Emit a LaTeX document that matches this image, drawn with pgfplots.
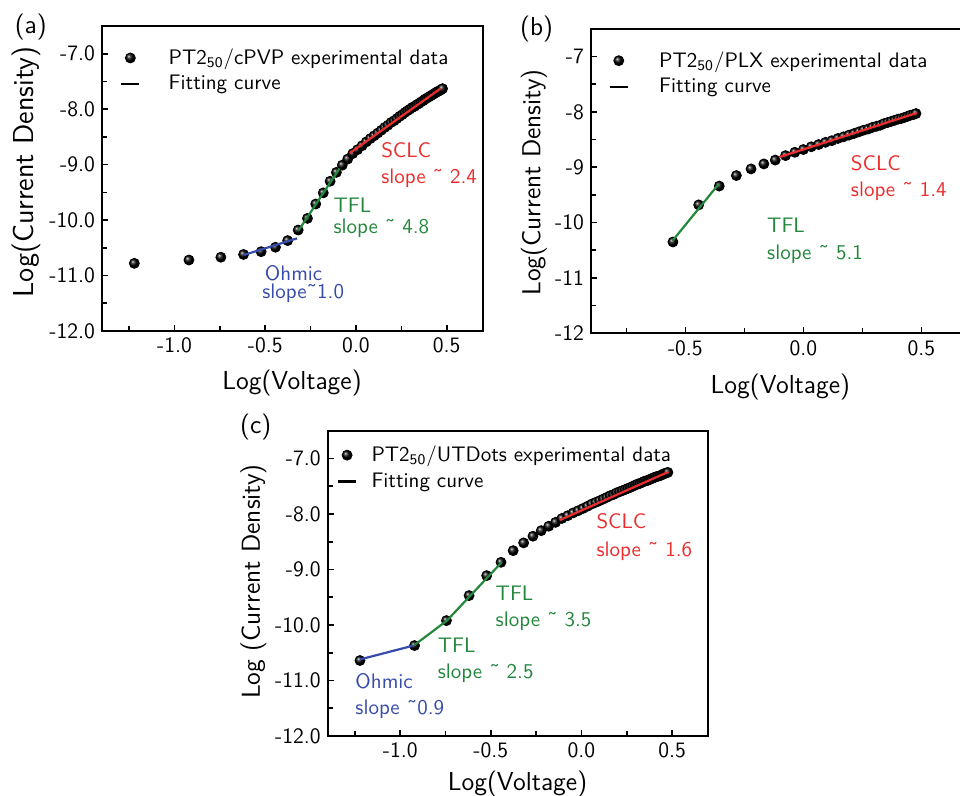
\documentclass[border=0pt]{standalone}
\usepackage{fontspec}
\usepackage{pgfplots}
\pgfplotsset{compat=1.18}

\definecolor{fitred}{RGB}{235,45,45}
\definecolor{fitgreen}{RGB}{35,135,60}
\definecolor{fitblue}{RGB}{55,75,170}

\newcommand{\tl}{{\char"02DC\relax}}

\tikzset{ann/.style={anchor=west, inner sep=0pt, font=\fontsize{10.5}{12}\selectfont\sffamily}}

\pgfplotsset{
  jstyle/.style={
    scale only axis, anchor=south west, clip=false, clip marker paths=true,
    axis line style={line width=0.9pt},
    every tick/.style={black, line width=0.8pt},
    tick align=inside, xtick pos=left, ytick pos=left,
    major tick length=3pt, minor tick length=2.5pt,
    ymin=-12, ymax=-6.5,
    ytick={-12,-11,...,-7},
    minor ytick={-11.5,-10.5,-9.5,-8.5,-7.5},
    tick label style={font=\fontsize{11}{13}\selectfont\sffamily},
    /pgf/number format/assume math mode=true,
    xticklabel style={/pgf/number format/.cd, fixed, fixed zerofill, precision=1},
    legend cell align=left,
    legend style={draw=none, fill=none, anchor=north west, inner sep=0pt,
      font=\fontsize{10.5}{12}\selectfont\sffamily, row sep=1pt,
      nodes={inner sep=1.5pt}},
  },
  dat/.style={only marks, mark=ball, mark size=2.5pt, mark options={ball color=black}},
  fit/.style={line width=1.1pt, no marks},
}

\begin{document}
\begin{tikzpicture}[font=\sffamily]

% ---------- (a) ----------
\begin{axis}[jstyle, at={(51pt,232.5pt)}, width=190.5pt, height=152.5pt,
  xmin=-1.4, xmax=0.7, xtick={-1,-0.5,0,0.5}, minor xtick={-1.25,-0.75,-0.25,0.25},
  yticklabel style={/pgf/number format/.cd, fixed, fixed zerofill, precision=1},
  legend style={at={(rel axis cs:0.046,0.937)}, /tikz/every odd column/.append style={column sep=12.5pt}}]
\addlegendimage{dat}
\addlegendentry{PT2\textsubscript{50}/cPVP experimental data}
\addlegendimage{legend image code/.code={\draw[black, line width=1.3pt] (0.14cm,0cm) -- (0.46cm,0cm);}}
\addlegendentry{Fitting curve}
\addplot[dat] table {
x y
-1.22185 -10.78
-0.92082 -10.72
-0.74473 -10.67
-0.61979 -10.62
-0.52288 -10.57
-0.44370 -10.49
-0.37675 -10.37
-0.31876 -10.18
-0.26761 -9.97
-0.22185 -9.71
-0.18046 -9.51
-0.14267 -9.30
-0.10791 -9.14
-0.07572 -9.01
-0.04576 -8.90
-0.01773 -8.80
0.00860 -8.73
0.03342 -8.66
0.05690 -8.59
0.07918 -8.53
0.10037 -8.48
0.12057 -8.43
0.13988 -8.38
0.15836 -8.33
0.17609 -8.29
0.19312 -8.24
0.20951 -8.21
0.22531 -8.17
0.24055 -8.13
0.25527 -8.10
0.26951 -8.06
0.28330 -8.03
0.29666 -8.00
0.30963 -7.97
0.32222 -7.95
0.33445 -7.92
0.34635 -7.90
0.35793 -7.87
0.36921 -7.85
0.38021 -7.82
0.39093 -7.80
0.40140 -7.78
0.41162 -7.76
0.42160 -7.74
0.43136 -7.72
0.44091 -7.70
0.45025 -7.68
0.45939 -7.67
0.46835 -7.65
0.47712 -7.63
};
\addplot[fit, fitblue] coordinates {(-0.619,-10.63) (-0.325,-10.33)};
\addplot[fit, fitgreen] coordinates {(-0.317,-10.19) (-0.091,-9.07)};
\addplot[fit, fitred] coordinates {(-0.033,-8.79) (0.465,-7.63)};
\node[ann, text=fitred] at (axis cs:0.137,-8.74) {SCLC};
\node[ann, text=fitred] at (axis cs:0.137,-9.24) {slope \tl\ 2.4};
\node[ann, text=fitgreen] at (axis cs:-0.126,-9.73) {TFL};
\node[ann, text=fitgreen] at (axis cs:-0.126,-10.14) {slope \tl\ 4.8};
\node[ann, text=fitblue] at (axis cs:-0.504,-10.96) {Ohmic};
\node[ann, text=fitblue] at (axis cs:-0.518,-11.32) {slope\tl1.0};
\end{axis}

% ---------- (b) ----------
\begin{axis}[jstyle, at={(295.5pt,231.35pt)}, width=188.8pt, height=152.2pt,
  xmin=-0.9, xmax=0.7, xtick={-0.5,0,0.5}, minor xtick={-0.75,-0.25,0.25},
  yticklabel style={/pgf/number format/.cd, fixed, precision=0},
  legend style={at={(rel axis cs:0.045,0.9375)}, /tikz/every odd column/.append style={column sep=13.5pt}}]
\addlegendimage{dat}
\addlegendentry{PT2\textsubscript{50}/PLX experimental data}
\addlegendimage{legend image code/.code={\draw[black, line width=1.3pt] (0.14cm,0cm) -- (0.46cm,0cm);}}
\addlegendentry{Fitting curve}
\addplot[dat] table {
x y
-0.55284 -10.35
-0.44370 -9.68
-0.35655 -9.34
-0.28400 -9.15
-0.22185 -9.03
-0.16749 -8.94
-0.11919 -8.87
-0.07572 -8.79
-0.03621 -8.73
0.00000 -8.68
0.03342 -8.63
0.06446 -8.59
0.09342 -8.55
0.12057 -8.52
0.14613 -8.48
0.17026 -8.45
0.19312 -8.42
0.21484 -8.39
0.23553 -8.36
0.25527 -8.33
0.27416 -8.31
0.29226 -8.28
0.30963 -8.26
0.32634 -8.24
0.34242 -8.21
0.35793 -8.19
0.37291 -8.17
0.38739 -8.15
0.40140 -8.13
0.41497 -8.12
0.42813 -8.10
0.44091 -8.08
0.45332 -8.06
0.46538 -8.05
0.47712 -8.03
};
\addplot[fit, fitgreen] coordinates {(-0.555,-10.33) (-0.36,-9.31)};
\addplot[fit, fitred] coordinates {(-0.104,-8.82) (0.48,-8.02)};
\node[ann, text=fitred] at (axis cs:0.2,-8.93) {SCLC};
\node[ann, text=fitred] at (axis cs:0.2,-9.44) {slope \tl\ 1.4};
\node[ann, text=fitgreen] at (axis cs:-0.155,-10.04) {TFL};
\node[ann, text=fitgreen] at (axis cs:-0.155,-10.57) {slope \tl\ 5.1};
\end{axis}

% ---------- (c) ----------
\begin{axis}[jstyle, at={(163.85pt,30pt)}, width=190.3pt, height=152.6pt,
  xmin=-1.4, xmax=0.7, xtick={-1,-0.5,0,0.5}, minor xtick={-1.25,-0.75,-0.25,0.25},
  yticklabel style={/pgf/number format/.cd, fixed, fixed zerofill, precision=1},
  legend style={at={(rel axis cs:0.0226,0.962)}, /tikz/every odd column/.append style={column sep=5.5pt}}]
\addlegendimage{dat}
\addlegendentry{PT2\textsubscript{50}/UTDots experimental data}
\addlegendimage{legend image code/.code={\draw[black, line width=1.3pt] (0.14cm,0cm) -- (0.46cm,0cm);}}
\addlegendentry{Fitting curve}
\addplot[dat] table {
x y
-1.22185 -10.64
-0.92082 -10.37
-0.74473 -9.92
-0.61979 -9.47
-0.52288 -9.11
-0.44370 -8.87
-0.37675 -8.66
-0.31876 -8.52
-0.26761 -8.40
-0.22185 -8.30
-0.18046 -8.22
-0.14267 -8.15
-0.10791 -8.08
-0.07572 -8.03
-0.04576 -7.98
-0.01773 -7.94
0.00860 -7.90
0.03342 -7.86
0.05690 -7.82
0.07918 -7.79
0.10037 -7.76
0.12057 -7.73
0.13988 -7.70
0.15836 -7.67
0.17609 -7.65
0.19312 -7.62
0.20951 -7.60
0.22531 -7.58
0.24055 -7.56
0.25527 -7.54
0.26951 -7.52
0.28330 -7.50
0.29666 -7.48
0.30963 -7.46
0.32222 -7.45
0.33445 -7.43
0.34635 -7.41
0.35793 -7.40
0.36921 -7.39
0.38021 -7.37
0.39093 -7.36
0.40140 -7.34
0.41162 -7.33
0.42160 -7.32
0.43136 -7.31
0.44091 -7.30
0.45025 -7.28
0.45939 -7.27
0.46835 -7.26
0.47712 -7.25
};
\addplot[fit, fitblue] coordinates {(-1.221,-10.62) (-0.926,-10.37)};
\addplot[fit, fitgreen] coordinates {(-0.921,-10.36) (-0.742,-9.92) (-0.44,-8.87)};
\addplot[fit, fitred] coordinates {(-0.12,-8.11) (0.48,-7.24)};
\node[ann, text=fitred] at (axis cs:0.081,-8.135) {SCLC};
\node[ann, text=fitred] at (axis cs:0.081,-8.673) {slope \tl\ 1.6};
\node[ann, text=fitgreen] at (axis cs:-0.475,-9.427) {TFL};
\node[ann, text=fitgreen] at (axis cs:-0.475,-9.935) {slope \tl\ 3.5};
\node[ann, text=fitgreen] at (axis cs:-0.794,-10.366) {TFL};
\node[ann, text=fitgreen] at (axis cs:-0.794,-10.874) {slope \tl\ 2.5};
\node[ann, text=fitblue] at (axis cs:-1.249,-11.013) {Ohmic};
\node[ann, text=fitblue] at (axis cs:-1.249,-11.521) {slope \tl0.9};
\end{axis}

% panel letters and axis titles
\node[font=\fontsize{13}{15}\selectfont\sffamily] at (15.4pt,384.25pt) {(a)};
\node[font=\fontsize{13}{15}\selectfont\sffamily] at (268.3pt,383.25pt) {(b)};
\node[font=\fontsize{13}{15}\selectfont\sffamily] at (127.9pt,184.25pt) {(c)};
\node[rotate=90, font=\fontsize{14.4}{16}\selectfont\sffamily] at (13pt,312pt) {Log(Current Density)};
\node[rotate=90, font=\fontsize{13}{15}\selectfont\sffamily] at (267pt,306.75pt) {Log(Current Density)};
\node[rotate=90, font=\fontsize{13}{15}\selectfont\sffamily] at (126.7pt,107.2pt) {Log (Current Density)};
\node[font=\fontsize{13}{15}\selectfont\sffamily] at (146pt,206.5pt) {Log(Voltage)};
\node[font=\fontsize{13}{15}\selectfont\sffamily] at (390.2pt,204.25pt) {Log(Voltage)};
\node[font=\fontsize{13}{15}\selectfont\sffamily] at (258.75pt,6pt) {Log(Voltage)};

\pgfresetboundingbox
\useasboundingbox (0,0) rectangle (480pt,398pt);
\end{tikzpicture}
\end{document}
